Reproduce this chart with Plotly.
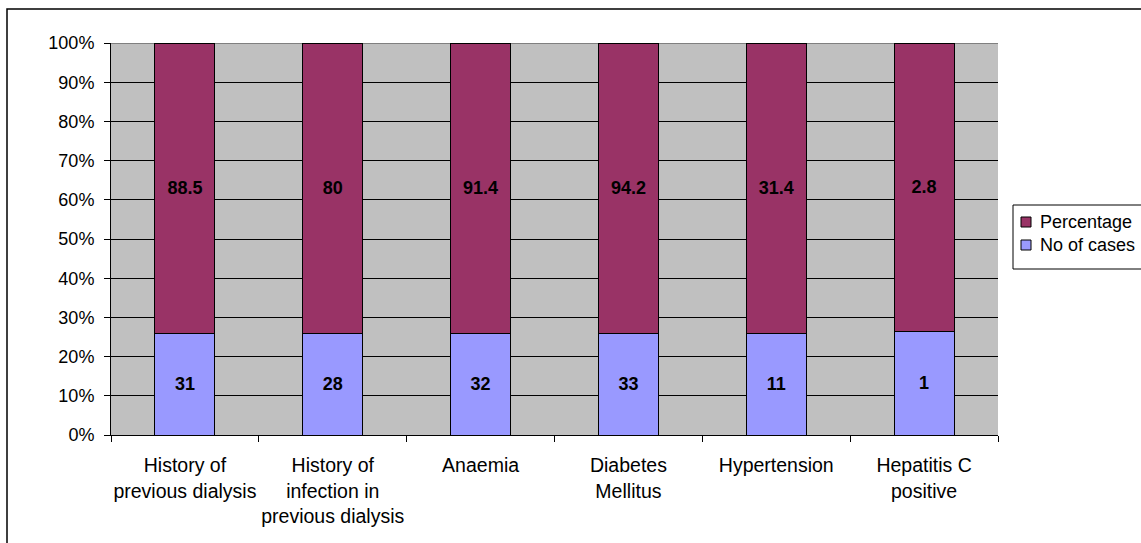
import plotly.graph_objects as go

categories = [
    "History of<br>previous dialysis",
    "History of<br>infection in<br>previous dialysis",
    "Anaemia",
    "Diabetes<br>Mellitus",
    "Hypertension",
    "Hepatitis C<br>positive",
]
no_of_cases = [31, 28, 32, 33, 11, 1]
percentage = [88.5, 80, 91.4, 94.2, 31.4, 2.8]

FONT = "Arial, Liberation Sans, sans-serif"
FS = 18
W, H = 1141, 543
L, R, T, B = 111, 143, 43, 108
pw, ph = W - L - R, H - T - B

CASES_COLOR = "#9999ff"
PCT_COLOR = "#993366"

fig = go.Figure()
fig.add_trace(go.Bar(
    x=categories, y=no_of_cases, name="No of cases",
    marker=dict(color=CASES_COLOR, line=dict(color="black", width=1)),
    text=[str(v) for v in no_of_cases], textposition="inside",
    insidetextanchor="middle",
    textfont=dict(family=FONT, size=FS, color="black", weight="bold"),
))
fig.add_trace(go.Bar(
    x=categories, y=percentage, name="Percentage",
    marker=dict(color=PCT_COLOR, line=dict(color="black", width=1)),
    text=[f"{v:g}" for v in percentage], textposition="inside",
    insidetextanchor="middle",
    textfont=dict(family=FONT, size=FS, color="black", weight="bold"),
))


def px_x(p):
    return (p - L) / pw


def px_y(p):
    return (H - B - p) / ph


# outer chart frame
fig.add_shape(type="rect", xref="paper", yref="paper",
              x0=px_x(7), x1=px_x(1150), y0=px_y(553), y1=px_y(9),
              line=dict(color="black", width=1.5), fillcolor="rgba(0,0,0,0)",
              layer="below")

# grey top edge of the plot area
fig.add_shape(type="line", xref="paper", yref="y", x0=0, x1=1, y0=100, y1=100,
              line=dict(color="#808080", width=2), layer="between")

# legend box (Percentage on top, No of cases below)
fig.add_shape(type="rect", xref="paper", yref="paper",
              x0=px_x(1013), x1=px_x(1150), y0=px_y(269), y1=px_y(205),
              line=dict(color="black", width=1), fillcolor="white")
legend_items = [("Percentage", PCT_COLOR, 222), ("No of cases", CASES_COLOR, 245)]
for name, color, cy in legend_items:
    fig.add_shape(type="rect", xref="paper", yref="paper",
                  x0=px_x(1021), x1=px_x(1031), y0=px_y(cy + 5), y1=px_y(cy - 5),
                  line=dict(color="black", width=1), fillcolor=color)
    fig.add_annotation(text=name, xref="paper", yref="paper",
                       x=px_x(1038), y=px_y(cy), xanchor="left", yanchor="middle",
                       showarrow=False,
                       font=dict(family=FONT, size=FS, color="black"))

fig.update_layout(
    width=W, height=H,
    margin=dict(l=L, r=R, t=T, b=B),
    barmode="stack", barnorm="percent", bargap=0.594,
    plot_bgcolor="#c0c0c0", paper_bgcolor="white",
    font=dict(family=FONT, size=FS, color="black"),
    showlegend=False,
    xaxis=dict(
        showline=True, linecolor="black", linewidth=1,
        ticks="outside", tickson="boundaries", ticklen=6, tickcolor="black",
        ticklabelstandoff=13, showgrid=False,
        tickangle=0, automargin=False,
        tickfont=dict(family=FONT, size=19.5, color="black"),
    ),
    yaxis=dict(
        range=[0, 100], tickvals=list(range(0, 101, 10)),
        ticktext=[f"{v}%" for v in range(0, 101, 10)],
        showline=True, linecolor="black", linewidth=1,
        ticks="outside", ticklen=6, tickcolor="black",
        ticklabelstandoff=6, automargin=False,
        showgrid=True, gridcolor="black", gridwidth=1,
        zeroline=False,
        tickfont=dict(family=FONT, size=FS, color="black"),
    ),
)

fig.write_html("out.html")
